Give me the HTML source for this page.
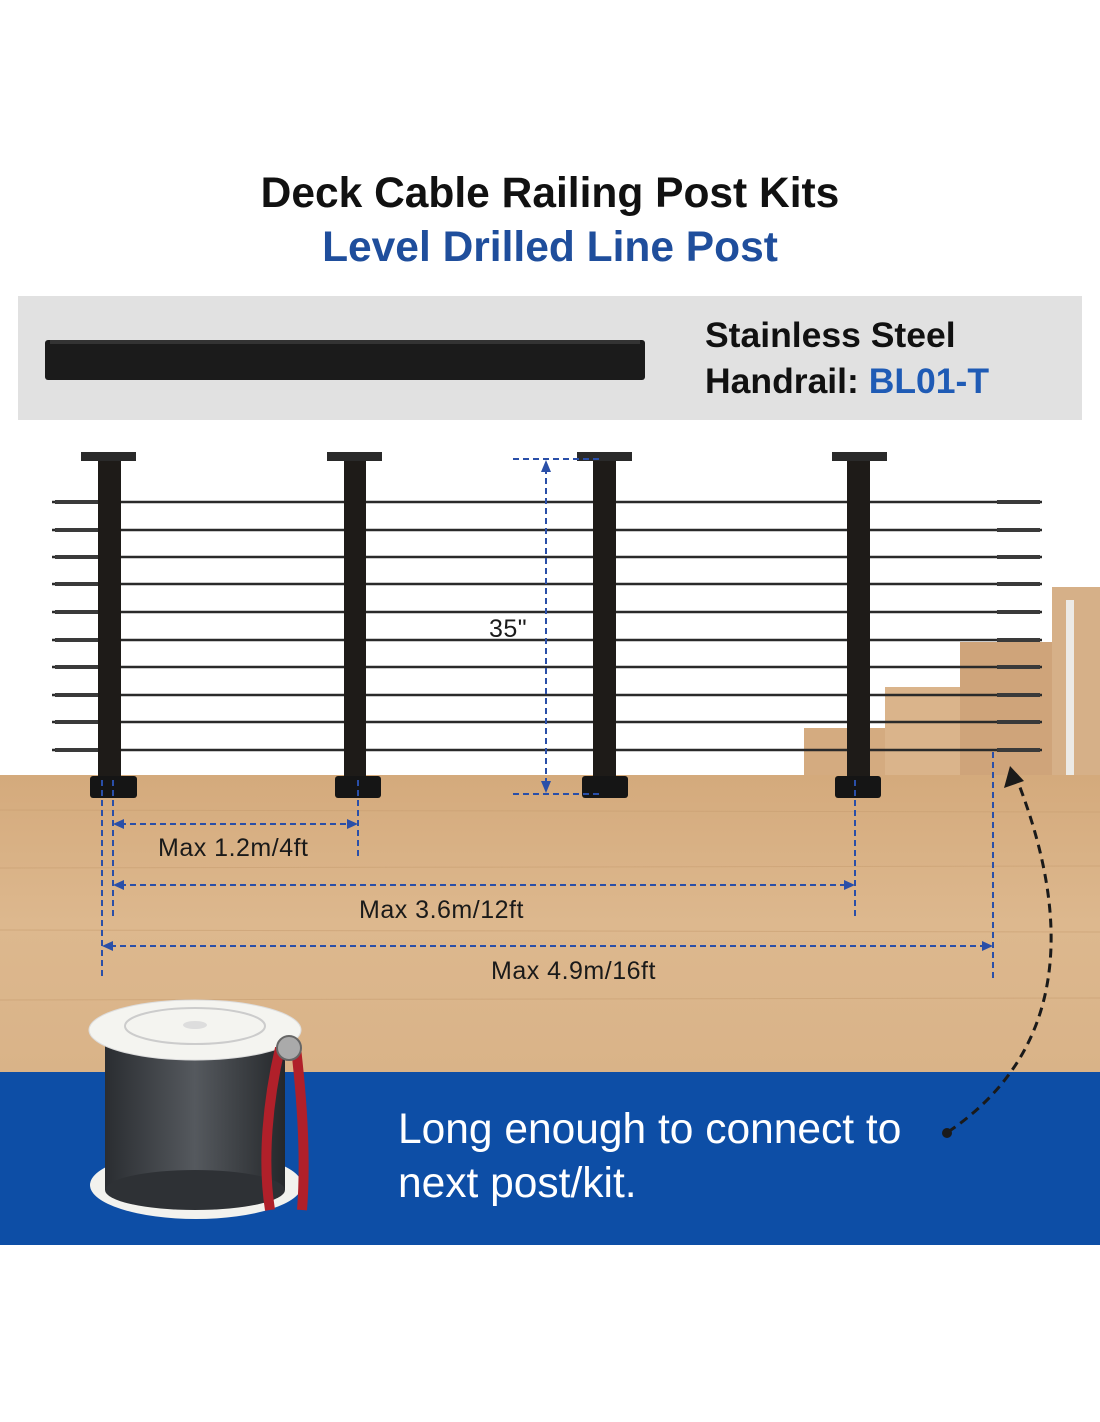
<!DOCTYPE html>
<html><head><meta charset="utf-8"><style>
html,body{margin:0;padding:0;background:#fff}
body{width:1100px;height:1422px;position:relative;overflow:hidden;font-family:"Liberation Sans",sans-serif}
</style></head><body>
<svg width="1100" height="1422" viewBox="0 0 1100 1422" xmlns="http://www.w3.org/2000/svg" style="position:absolute;left:0;top:0">
<defs>
<linearGradient id="deck" x1="0" y1="0" x2="0" y2="1">
<stop offset="0" stop-color="#d4aa7c"/><stop offset="0.5" stop-color="#ddb88e"/><stop offset="1" stop-color="#d9b388"/>
</linearGradient>
<linearGradient id="spool" x1="0" y1="0" x2="1" y2="0">
<stop offset="0" stop-color="#2a2d31"/><stop offset="0.5" stop-color="#55595e"/><stop offset="1" stop-color="#25282b"/>
</linearGradient>
</defs>
<text x="550" y="207" font-size="42.5" font-weight="bold" text-anchor="middle" fill="#111">Deck Cable Railing Post Kits</text>
<text x="550" y="261" font-size="42.5" font-weight="bold" text-anchor="middle" fill="#1f4e9c">Level Drilled Line Post</text>
<rect x="18" y="296" width="1064" height="124" fill="#e1e1e1"/>
<rect x="45" y="340" width="600" height="40" rx="3" fill="#1b1b1b"/>
<rect x="50" y="340" width="590" height="4" fill="#333"/>
<text x="705" y="347" font-size="35.5" font-weight="bold" fill="#111">Stainless Steel</text>
<text x="705" y="393" font-size="35.5" font-weight="bold" fill="#111">Handrail: <tspan fill="#1f5bb5">BL01-T</tspan></text>
<!-- deck -->
<rect x="0" y="775" width="1100" height="297" fill="url(#deck)"/>
<g stroke="#c89f72" stroke-width="1" opacity="0.6">
<line x1="0" y1="810" x2="1100" y2="812"/><line x1="0" y1="868" x2="1100" y2="866"/><line x1="0" y1="930" x2="1100" y2="932"/><line x1="0" y1="1000" x2="1100" y2="998"/>
</g>
<!-- stairs -->
<rect x="1052" y="587" width="48" height="188" fill="#d6b088"/>
<rect x="1066" y="600" width="8" height="175" fill="#eceae6"/>
<rect x="960" y="642" width="92" height="133" fill="#cfa47a"/>
<rect x="885" y="687" width="75" height="88" fill="#dab48b"/>
<rect x="804" y="728" width="81" height="47" fill="#d4ab80"/>
<!-- cables -->
<g stroke="#2a2a2a" stroke-width="2.5">
<line x1="52" y1="502" x2="1042" y2="502"/><line x1="52" y1="530" x2="1042" y2="530"/>
<line x1="52" y1="557" x2="1042" y2="557"/><line x1="52" y1="584" x2="1042" y2="584"/>
<line x1="52" y1="612" x2="1042" y2="612"/><line x1="52" y1="640" x2="1042" y2="640"/>
<line x1="52" y1="667" x2="1042" y2="667"/><line x1="52" y1="695" x2="1042" y2="695"/>
<line x1="52" y1="722" x2="1042" y2="722"/><line x1="52" y1="750" x2="1042" y2="750"/>
</g>
<g fill="#3a3a3a">
<rect x="55" y="500" width="43" height="4"/><rect x="55" y="528" width="43" height="4"/><rect x="55" y="555" width="43" height="4"/><rect x="55" y="582" width="43" height="4"/><rect x="55" y="610" width="43" height="4"/><rect x="55" y="638" width="43" height="4"/><rect x="55" y="665" width="43" height="4"/><rect x="55" y="693" width="43" height="4"/><rect x="55" y="720" width="43" height="4"/><rect x="55" y="748" width="43" height="4"/>
<rect x="997" y="500" width="43" height="4"/><rect x="997" y="528" width="43" height="4"/><rect x="997" y="555" width="43" height="4"/><rect x="997" y="582" width="43" height="4"/><rect x="997" y="610" width="43" height="4"/><rect x="997" y="638" width="43" height="4"/><rect x="997" y="665" width="43" height="4"/><rect x="997" y="693" width="43" height="4"/><rect x="997" y="720" width="43" height="4"/><rect x="997" y="748" width="43" height="4"/>
</g>
<!-- posts -->
<g fill="#1e1b18">
<rect x="98" y="458" width="23" height="322"/><rect x="81" y="452" width="55" height="9" fill="#2a2a2a"/><rect x="90" y="776" width="47" height="22" rx="3" fill="#151515"/>
<rect x="344" y="458" width="22" height="322"/><rect x="327" y="452" width="55" height="9" fill="#2a2a2a"/><rect x="335" y="776" width="46" height="22" rx="3" fill="#151515"/>
<rect x="593" y="458" width="23" height="322"/><rect x="577" y="452" width="55" height="9" fill="#2a2a2a"/><rect x="582" y="776" width="46" height="22" rx="3" fill="#151515"/>
<rect x="847" y="458" width="23" height="322"/><rect x="832" y="452" width="55" height="9" fill="#2a2a2a"/><rect x="835" y="776" width="46" height="22" rx="3" fill="#151515"/>
</g>
<!-- dimensions -->
<g stroke="#2a4fa8" stroke-width="2" stroke-dasharray="6,4" fill="none">
<line x1="513" y1="459" x2="600" y2="459"/><line x1="513" y1="794" x2="600" y2="794"/>
<line x1="546" y1="468" x2="546" y2="786"/>
<line x1="102" y1="780" x2="102" y2="980"/><line x1="113" y1="780" x2="113" y2="918"/>
<line x1="358" y1="780" x2="358" y2="858"/><line x1="855" y1="780" x2="855" y2="918"/>
<line x1="993" y1="752" x2="993" y2="980"/>
<line x1="120" y1="824" x2="350" y2="824"/>
<line x1="120" y1="885" x2="848" y2="885"/>
<line x1="110" y1="946" x2="986" y2="946"/>
</g>
<g fill="#2a4fa8">
<polygon points="546,460 541,472 551,472"/><polygon points="546,793 541,781 551,781"/>
<polygon points="113,824 124,819 124,829"/><polygon points="358,824 347,819 347,829"/>
<polygon points="113,885 124,880 124,890"/><polygon points="855,885 844,880 844,890"/>
<polygon points="102,946 113,941 113,951"/><polygon points="993,946 982,941 982,951"/>
</g>
<g font-size="25" fill="#1a1a1a" letter-spacing="0.5">
<text x="489" y="637">35"</text>
<text x="158" y="856">Max 1.2m/4ft</text>
<text x="359" y="918">Max 3.6m/12ft</text>
<text x="491" y="979">Max 4.9m/16ft</text>
</g>
<!-- blue band -->
<rect x="0" y="1072" width="1100" height="173" fill="#0d4ea6"/>
<path d="M948 1132 C1040 1070 1090 960 1014 772" stroke="#1a1a1a" stroke-width="3" stroke-dasharray="9,6" fill="none"/>
<polygon points="1010,766 1004,788 1024,781" fill="#1a1a1a"/>
<circle cx="947" cy="1133" r="5" fill="#1a1a1a"/>
<text x="398" y="1143" font-size="42.5" fill="#fff">Long enough to connect to</text>
<text x="398" y="1197" font-size="42.5" fill="#fff">next post/kit.</text>
<!-- spool -->
<ellipse cx="196" cy="1185" rx="106" ry="34" fill="#f2f2ee"/>
<rect x="105" y="1030" width="180" height="160" fill="url(#spool)"/>
<ellipse cx="195" cy="1190" rx="90" ry="20" fill="#2e3135"/>
<ellipse cx="195" cy="1030" rx="106" ry="30" fill="#f4f4f0" stroke="#ddd"/>
<ellipse cx="195" cy="1026" rx="70" ry="18" fill="none" stroke="#ccc" stroke-width="2"/>
<ellipse cx="195" cy="1025" rx="12" ry="4" fill="#ddd"/>
<path d="M280 1048 C268 1100 262 1160 270 1210" stroke="#b0202a" stroke-width="10" fill="none"/>
<path d="M296 1048 C302 1100 306 1160 302 1210" stroke="#b0202a" stroke-width="10" fill="none"/>
<circle cx="289" cy="1048" r="12" fill="#aaa" stroke="#666" stroke-width="2"/>
</svg>
</body></html>
